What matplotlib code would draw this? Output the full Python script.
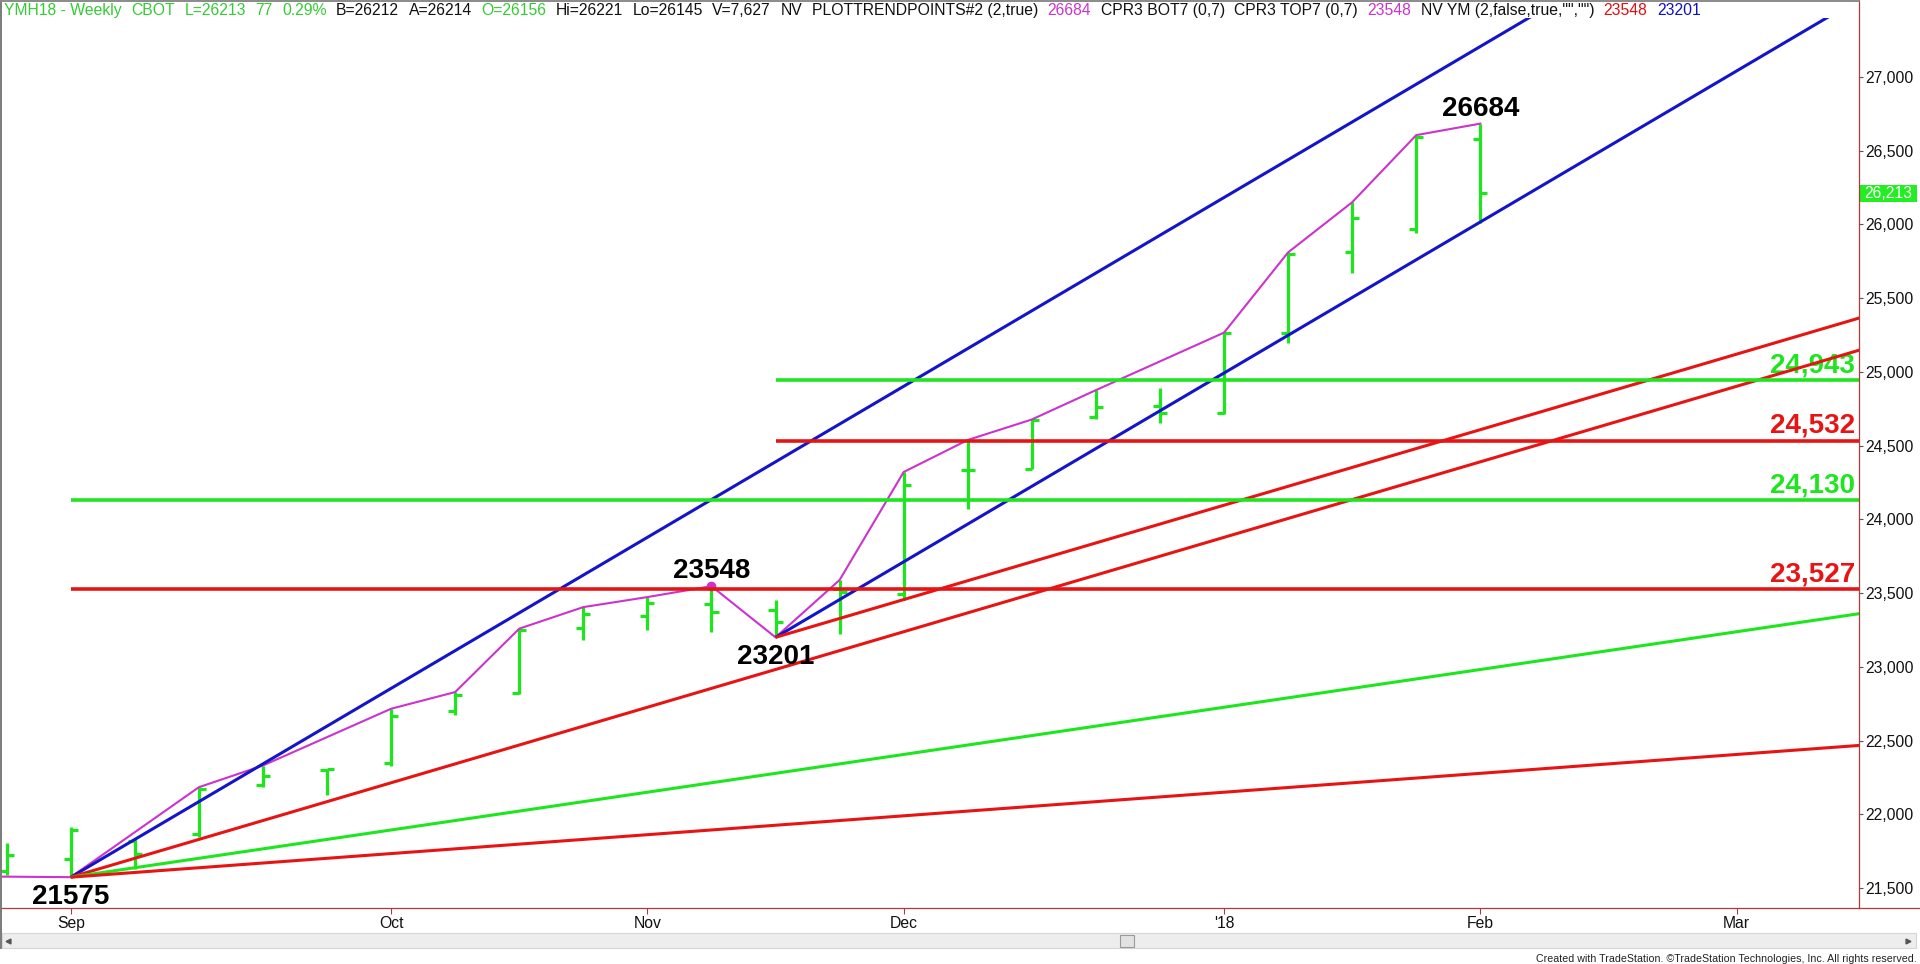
"""Weekly YM (mini Dow) futures, TradeStation-style OHLC chart with Gann fan lines."""
import matplotlib
matplotlib.use("Agg")
import matplotlib.pyplot as plt
from matplotlib import transforms
from matplotlib.lines import Line2D
from matplotlib.patches import Rectangle

plt.rcParams["font.family"] = ["Liberation Sans", "DejaVu Sans"]

W, H = 1920, 964

# ---- weekly bars (bar 0 = last week of Aug '17, bar 23 = Feb 2 '18) -------
bar_open = [21615, 21700, 21820, 21869, 22197, 22300, 22351, 22701, 22825, 23264,
            23343, 23429, 23389, 23530, 23497, 24334, 24345, 24695, 24772, 24725,
            25263, 25811, 25970, 26578]
bar_high = [21805, 21914, 21835, 22185, 22332, 22310, 22717, 22830, 23260, 23406,
            23474, 23548, 23452, 23590, 24322, 24539, 24678, 24877, 24889, 25267,
            25811, 26151, 26606, 26684]
bar_low = [21593, 21575, 21632, 21846, 22185, 22129, 22332, 22672, 22819, 23180,
           23248, 23237, 23201, 23226, 23456, 24071, 24340, 24678, 24655, 24714,
           25199, 25672, 25940, 26010]
bar_close = [21722, 21896, 21733, 22174, 22258, 22305, 22665, 22807, 23253, 23362,
             23434, 23373, 23305, 23508, 24232, 24334, 24672, 24760, 24725, 25263,
             25800, 26045, 26594, 26213]

# swing line (PLOTTRENDPOINTS): bar index and whether it hooks the high or low
pivot_bars = [1, 3, 4, 6, 7, 8, 9, 10, 11, 12, 13, 14, 15, 16, 17, 19, 20, 21, 22, 23]
pivot_kind = ["L", "H", "H", "H", "H", "H", "H", "H", "H", "L", "H", "H", "H", "H",
              "H", "H", "H", "H", "H", "H"]
prior_pivot = (-1, 21582)

# Gann fan angles: start bar, start price, points per bar
fan_start = [1, 12, 1, 12, 1, 1]
fan_price = [21575, 23201, 21575, 23201, 21575, 21575]
fan_slope = [256, 256, 128, 128, 64, 32]
fan_kind = ["blue", "blue", "red", "red", "green", "red"]

# horizontal retracement levels
level_price = [24943, 24532, 24130, 23527]
level_start = [12, 12, 1, 1]
level_kind = ["green", "red", "green", "red"]

pivot_labels = [(1, 21575, "21575"), (11, 23548, "23548"),
                (12, 23201, "23201"), (23, 26684, "26684")]

month_bars = [1, 6, 10, 14, 19, 23, 27]
month_labels = ["Sep", "Oct", "Nov", "Dec", "'18", "Feb", "Mar"]
y_ticks = [21500, 22000, 22500, 23000, 23500, 24000, 24500, 25000, 25500, 26000,
           26500, 27000]
last_price = 26213

header = [("YMH18 - Weekly", "g"), ("CBOT", "g"), ("L=26213", "g"), ("77", "g"),
          ("0.29%", "g"), ("B=26212", "k"), ("A=26214", "k"), ("O=26156", "g"),
          ("Hi=26221", "k"), ("Lo=26145", "k"), ("V=7,627", "k"), ("NV", "k"),
          ("PLOTTRENDPOINTS#2 (2,true)", "k"), ("26684", "m"),
          ("CPR3 BOT7 (0,7)", "k"), ("CPR3 TOP7 (0,7)", "k"), ("23548", "m"),
          ('NV YM (2,false,true,"","")', "k"), ("23548", "r"), ("23201", "b")]

GREEN = "#1EE61E"
RED = "#E81414"
BLUE = "#1414C8"
MAGENTA = "#CC33CC"
AXIS_RED = "#B03A3A"
COLORS = {"green": GREEN, "red": RED, "blue": BLUE}
HEAD_COLORS = {"g": "#33CC33", "k": "#111111", "m": "#CC33CC", "r": "#E01010",
               "b": "#1010C0"}


def fx(px):
    return px / W


def fy(py):
    return 1 - py / H


fig = plt.figure(figsize=(W / 100, H / 100), dpi=100)
fig.patch.set_facecolor("white")
ax = fig.add_axes([fx(2), fy(908), (1859 - 2) / W, (908 - 18) / H])
ax.set_xlim(-0.073, 28.91)
ax.set_ylim(21366, 27400)
for s in ax.spines.values():
    s.set_visible(False)

# ---- OHLC bars --------------------------------------------------------------
idx = list(range(len(bar_high)))
tick = 0.11
ax.vlines(idx, bar_low, bar_high, color=GREEN, lw=2.3, zorder=2)
ax.hlines(bar_open, [i - tick for i in idx], idx, color=GREEN, lw=2.3, zorder=2)
ax.hlines(bar_close, idx, [i + tick for i in idx], color=GREEN, lw=2.3, zorder=2)

# ---- swing line -------------------------------------------------------------
px_ = [prior_pivot[0]] + pivot_bars
py_ = [prior_pivot[1]] + [bar_low[b] if k == "L" else bar_high[b]
                          for b, k in zip(pivot_bars, pivot_kind)]
ax.plot(px_, py_, color=MAGENTA, lw=1.5, zorder=3)
ax.plot([11], [bar_high[11]], "o", color=MAGENTA, ms=6, zorder=3)

# ---- fan lines and levels ---------------------------------------------------
x_end = 30
for b, p, sl, k in zip(fan_start, fan_price, fan_slope, fan_kind):
    ax.plot([b, x_end], [p, p + sl * (x_end - b)], color=COLORS[k], lw=2.2,
            zorder=5, solid_capstyle="butt")
for p, b, k in zip(level_price, level_start, level_kind):
    ax.plot([b, x_end], [p, p], color=COLORS[k], lw=2.6, zorder=5,
            solid_capstyle="butt")
    ax.annotate(f"{p:,}", xy=(1, p), xycoords=("axes fraction", "data"),
                xytext=(-2.9, 5.8), textcoords="offset points", ha="right",
                va="baseline", color=COLORS[k], fontsize=20, fontweight="bold",
                zorder=4)

# ---- pivot numbers ----------------------------------------------------------
for b, p, s in pivot_labels:
    below = s in ("21575", "23201")
    ax.annotate(s, xy=(b, p), xytext=(0, -4.6 if below else 5.8),
                textcoords="offset points", ha="center",
                va="top" if below else "baseline", fontsize=20,
                fontweight="bold", color="black", zorder=6)

# ---- axes -------------------------------------------------------------------
ax.yaxis.tick_right()
ax.set_yticks(y_ticks)
ax.set_yticklabels([f"{v:,}" for v in y_ticks])
ax.tick_params(axis="y", direction="out", length=3.2, width=0.8,
               color="#555555", pad=1.5, labelsize=11.3, labelcolor="#111111")
ax.set_xticks(month_bars)
ax.set_xticklabels(month_labels)
ax.tick_params(axis="x", direction="out", length=4.3, width=0.8,
               color=AXIS_RED, pad=1.2, labelsize=11.3, labelcolor="#111111")

# last price box
blend = transforms.blended_transform_factory(fig.transFigure, ax.transData)
ax.add_patch(Rectangle((fx(1859), last_price - 58), 58 / W, 116, transform=blend,
                       facecolor="#22EE22", edgecolor="none", clip_on=False,
                       zorder=7))
ax.text(fx(1888), last_price, f"{last_price:,}", transform=blend, ha="center",
        va="center", color="white", fontsize=11.3, zorder=8, clip_on=False)

# ---- window chrome ----------------------------------------------------------
fig.add_artist(Line2D([0, 1], [fy(908), fy(908)], color=AXIS_RED, lw=0.9))
fig.add_artist(Line2D([fx(1859), fx(1859)], [fy(0), fy(908)], color=AXIS_RED, lw=0.9))
fig.add_artist(Line2D([fx(1), fx(1)], [fy(0), fy(948)], color="#7A7A7A", lw=1.4))
fig.add_artist(Line2D([0, fx(1859)], [fy(1), fy(1)], color="#8A8A8A", lw=1.4))
fig.add_artist(Rectangle((fx(2), fy(948)), (1916 - 2) / W, 15 / H,
                         transform=fig.transFigure, facecolor="#EDEDED",
                         edgecolor="#D6D6D6", lw=0.8))
fig.add_artist(Rectangle((fx(1120), fy(946.5)), 14 / W, 12 / H,
                         transform=fig.transFigure, facecolor="#E2E2E2",
                         edgecolor="#9A9A9A", lw=0.8))
fig.add_artist(Line2D([fx(8)], [fy(940.5)], marker="<", ms=3.5, color="#555555",
                      transform=fig.transFigure))
fig.add_artist(Line2D([fx(1908)], [fy(940.5)], marker=">", ms=3.5, color="#555555",
                      transform=fig.transFigure))

renderer = fig.canvas.get_renderer()
foot = fig.text(fx(1917), fy(962), "Created with TradeStation. \u00a9TradeStation "
                "Technologies, Inc. All rights reserved.", ha="right",
                va="baseline", fontsize=8, color="#222222")
fw = foot.get_window_extent(renderer).width
foot.set_fontsize(8 * 378 / fw)

# header: coloured segments laid end to end
x = 4
for s, c in header:
    t = fig.text(fx(x), fy(15), s, color=HEAD_COLORS[c], fontsize=11.3,
                 va="baseline", ha="left")
    x += t.get_window_extent(renderer).width + 9.5

fig.savefig("out.png", dpi=100)
